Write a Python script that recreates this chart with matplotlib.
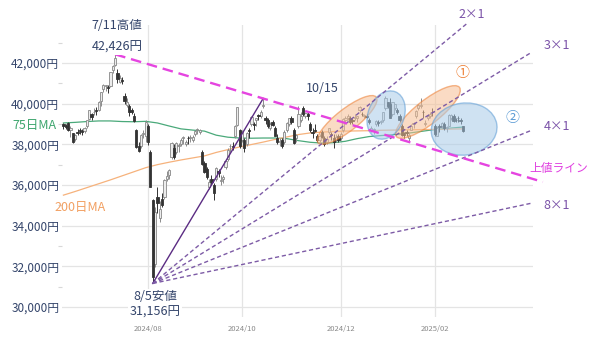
import numpy as np
import pandas as pd
import matplotlib
matplotlib.use('Agg')
import matplotlib.pyplot as plt
from matplotlib.patches import Ellipse
from matplotlib.transforms import ScaledTranslation

plt.rcParams['font.family'] = ['Noto Sans CJK JP', 'DejaVu Sans']

# === 日足データ (2024/06/11 - 2025/02/20) ===
jp_holidays = ['2024-07-15', '2024-08-12', '2024-09-16', '2024-09-23', '2024-10-14',
               '2024-11-04', '2024-12-31', '2025-01-01', '2025-01-02', '2025-01-03',
               '2025-01-13', '2025-02-11']
dates = pd.bdate_range('2024-06-11', '2025-02-20', freq='C', holidays=jp_holidays)

opens = [
    # 6月
    39000, 38920, 39050, 38700, 38560, 38240, 38620, 38700, 38640, 38670, 38880, 39260, 39500, 39570,
    # 7月
    39700, 39700, 40130, 40730, 40860, 40840, 40890, 41640, 41900, 41500, 41080, 41180, 40400, 39950,
    39900, 39700, 39400, 38700, 37900, 37900, 38500, 38400,
    # 8月
    38900, 37600, 35250, 32100, 35400, 34400, 35300, 35400, 36300, 36500, 37400, 37800, 37600, 37900,
    38000, 38300, 38000, 38300, 38300, 38200, 38500,
    # 9月
    38700, 38600, 37600, 37100, 36800, 35900, 36300, 36000, 36300, 36700, 36200, 36300, 36900, 37300,
    37900, 37900, 38400, 38950, 38700,
    # 10月
    38200, 38200, 38000, 38700, 39000, 39000, 39200, 39400, 39400, 39900, 39300, 39200, 38800, 39100,
    38800, 38300, 38100, 38200, 38100, 38700, 39000, 39300,
    # 11月
    38700, 38300, 38900, 39200, 39800, 39400, 39500, 39000, 38600, 38700, 38400, 38200, 38600, 38300,
    38100, 38600, 38500, 38300, 38200, 38400,
    # 12月
    38300, 38700, 39200, 39300, 39300, 39200, 39300, 39300, 39700, 39500, 39400, 39400, 39200, 38700,
    38700, 39000, 39100, 39100, 39200, 39800, 40100,
    # 1月
    40000, 39500, 39800, 39700, 39400, 38900, 38500, 38600, 38300, 38700, 39000, 39400, 39800, 39900,
    39600, 39000, 39300, 39400, 39600,
    # 2月
    38900, 38400, 38900, 38900, 39000, 38800, 38900, 39300, 39400, 39200, 39300, 39200, 38900,
]
highs = [
    39040, 39000, 39090, 38880, 38580, 38510, 38740, 38790, 38740, 38850, 39190, 39700, 39560, 39790,
    39840, 40120, 40590, 40950, 40910, 40900, 41580, 41880, 42426, 41700, 41400, 41300, 40500, 40290,
    39990, 39800, 39560, 38750, 38100, 38500, 38700, 39200,
    39000, 37700, 35300, 34900, 35900, 35200, 35600, 36300, 36700, 36800, 38100, 38000, 38100, 38050,
    38300, 38400, 38200, 38400, 38450, 38450, 38700,
    38800, 38750, 37700, 37200, 36900, 36300, 36500, 36100, 36900, 36800, 36500, 36500, 37200, 37800,
    38000, 38100, 38950, 39830, 38750,
    38700, 38300, 38600, 38800, 39400, 39100, 39300, 39500, 39700, 40257, 39400, 39300, 39100, 39200,
    38900, 38500, 38300, 38300, 38700, 39100, 39300, 39400,
    38800, 38500, 39880, 39600, 39880, 39600, 39600, 39100, 38800, 39000, 38500, 38500, 38700, 38400,
    38400, 38800, 38600, 38500, 38500, 38500,
    38600, 39300, 39400, 39500, 39400, 39300, 39500, 39400, 39900, 39600, 39500, 39500, 39300, 38900,
    38800, 39200, 39200, 39200, 39600, 40400, 40100,
    40300, 40100, 40000, 39800, 39500, 39000, 38600, 38700, 38600, 39000, 39100, 39700, 40000, 40300,
    39700, 39200, 39500, 39600, 39800,
    39000, 38900, 39000, 39100, 39100, 38900, 39500, 39500, 39500, 39300, 39400, 39300, 38900,
]
lows = [
    38740, 38740, 38650, 38360, 38070, 38150, 38450, 38500, 38460, 38570, 38820, 39200, 39220, 39460,
    39450, 39640, 39900, 40580, 40620, 40520, 40820, 41500, 41850, 41000, 41000, 40950, 40000, 39850,
    39400, 39480, 39100, 37830, 37600, 37800, 38300, 38100,
    37980, 35880, 31156, 31950, 34600, 34200, 34900, 35300, 36200, 36300, 37300, 37300, 37500, 37600,
    37900, 38000, 37900, 38000, 38100, 38100, 38400,
    38500, 38500, 37000, 36600, 36300, 35800, 36000, 35250, 36200, 36400, 36000, 36100, 36800, 37200,
    37600, 37700, 38300, 38900, 37800,
    38100, 37600, 37900, 38300, 38900, 38700, 38900, 39200, 39300, 39800, 39000, 38800, 38700, 38900,
    38400, 38000, 37900, 37800, 38000, 38600, 38900, 39000,
    38000, 38100, 38800, 39100, 39400, 39300, 39200, 38600, 38300, 38600, 38100, 38100, 38300, 37900,
    38000, 38500, 38200, 37800, 38100, 38100,
    38200, 38600, 39100, 39200, 39000, 39000, 39200, 39100, 39600, 39400, 39300, 39300, 39000, 38600,
    38500, 38900, 38900, 39000, 39100, 39700, 39800,
    39300, 39400, 39700, 39500, 39100, 38400, 38300, 38400, 38100, 38700, 38800, 39300, 39700, 39800,
    39300, 38900, 39200, 39300, 39400,
    38400, 38400, 38600, 38800, 38700, 38600, 38900, 39200, 39100, 39100, 39100, 39000, 38600,
]
closes = [
    38885, 38876, 38720, 38814, 38102, 38482, 38570, 38633, 38596, 38804, 39173, 39667, 39341, 39583,
    39631, 40074, 40580, 40913, 40912, 40780, 41580, 41831, 42224, 41190, 41275, 41097, 40126, 40063,
    39599, 39594, 39154, 37869, 37667, 38468, 38525, 39101,
    38126, 35909, 31458, 34675, 35089, 34831, 35025, 36232, 36442, 36726, 38062, 37388, 38062, 37951,
    38211, 38364, 38110, 38288, 38371, 38362, 38647,
    38700, 38686, 37047, 36657, 36391, 36159, 36159, 35619, 36833, 36581, 36203, 36380, 37155, 37723,
    37940, 37870, 38925, 39829, 37919,
    38651, 37808, 38552, 38635, 39332, 38937, 39277, 39380, 39605, 39910, 39180, 38911, 38981, 38954,
    38411, 38104, 38143, 37913, 38605, 39027, 39277, 39081,
    38053, 38474, 39480, 39381, 39500, 39533, 39376, 38721, 38536, 38642, 38220, 38414, 38352, 38026,
    38283, 38780, 38442, 38134, 38349, 38208,
    38513, 39248, 39276, 39395, 39091, 39160, 39367, 39372, 39849, 39470, 39457, 39364, 39081, 38813,
    38701, 39161, 39036, 39130, 39568, 40281, 39894,
    39307, 40083, 39981, 39605, 39190, 38474, 38444, 38572, 38451, 38902, 39027, 39646, 39958, 39931,
    39566, 39016, 39414, 39514, 39572,
    38520, 38798, 38831, 39066, 38787, 38801, 39463, 39461, 39149, 39174, 39270, 39164, 38678,
]

# 移動平均 (5営業日ごとに読み取り)
ma_idx = list(range(0, 171, 5))
ma75 = [39050, 39080, 39120, 39150, 39150, 39120, 39110, 39130, 39050, 38900, 38760, 38700,
        38650, 38450, 38350, 38310, 38300, 38310, 38310, 38280, 38180, 38100, 38060, 38080,
        38150, 38280, 38380, 38430, 38470, 38520, 38600, 38680, 38750, 38800, 38850]
ma200 = [35500, 35680, 35870, 36060, 36250, 36450, 36650, 36850, 37000, 37120, 37230, 37330,
         37430, 37600, 37740, 37870, 37990, 38110, 38240, 38360, 38480, 38560, 38600, 38630,
         38650, 38660, 38670, 38690, 38700, 38710, 38720, 38730, 38740, 38750, 38760]

# ギャン・ファン (8/5安値から)
fan_origin = (38, 31156)
fan_labels = ['1×1', '2×1', '3×1', '4×1', '8×1']
fan_end_x = [85, 172, 199.4, 199.4, 199.4]
fan_end_y = [40257, 43970, 42540, 38700, 35110]

# 上値ライン (7/11高値 - 10/15高値)
top_line_x = [22, 204]
top_line_y = [42426, 36150]

# 楕円 (中心 x, 中心 y, 幅px, 高さpx, 角度)
ell_orange = [(120.7, 39200, 74, 22, 38), (155.1, 39590, 80, 24, 38)]
ell_blue = [(137.3, 39440, 50, 36, 68), (170.5, 38750, 66, 52, 8)]

month_ticks = ['2024-08', '2024-10', '2024-12', '2025-02']

# === 描画 ===
fig = plt.figure(figsize=(6, 3.39), dpi=100)
ax = fig.add_axes([62 / 600, 22 / 339, 471 / 600, 292 / 339])
ax.set_xlim(-0.6, 199.8)
ax.set_ylim(29506, 43869)
for s in ax.spines.values():
    s.set_visible(False)

navy = '#34456b'
ax.set_yticks(range(30000, 42001, 2000))
ax.set_yticklabels([f'{v:,}円' for v in range(30000, 42001, 2000)], color=navy, fontsize=8.5)
ax.set_yticks(range(31000, 43001, 2000), minor=True)
ax.tick_params(axis='y', which='major', length=0, pad=2)
ax.tick_params(axis='y', which='minor', length=3, color='#d8d8d8', width=0.8)
tick_pos = [int(np.searchsorted(dates, pd.Timestamp(m + '-01'))) for m in month_ticks]
ax.set_xticks(tick_pos)
ax.set_xticklabels([m.replace('-', '/') for m in month_ticks], color='#8a8a8a', fontsize=5.5)
ax.tick_params(axis='x', length=0, pad=6)
ax.grid(True, which='major', color='#e4e4e4', lw=0.9)
ax.set_axisbelow(True)

x = np.arange(len(closes))
o = np.array(opens)
h = np.array(highs)
l = np.array(lows)
c = np.array(closes)
up = c >= o
lo = np.minimum(o, c)
bh = np.maximum(np.abs(c - o), 40)

# 移動平均線
ax.plot(ma_idx, ma75, color='#4aa97a', lw=0.9, zorder=2)
ax.plot(ma_idx, ma200, color='#f6b27c', lw=0.9, zorder=2)

# ローソク足
ax.vlines(x[up], l[up], h[up], color='#8c8c8c', lw=0.7, zorder=3)
ax.vlines(x[~up], l[~up], h[~up], color='#333333', lw=0.7, zorder=3)
ax.bar(x[up], bh[up], bottom=lo[up], width=0.95, color='#ececec', edgecolor='#888888', lw=0.6, zorder=4)
ax.bar(x[~up], bh[~up], bottom=lo[~up], width=0.95, color='#333333', edgecolor='#333333', lw=0.6, zorder=4)

# 楕円
def add_ellipse(cx, cy, w, hgt, ang, fc, ec):
    tr = fig.dpi_scale_trans + ScaledTranslation(cx, cy, ax.transData)
    ax.add_patch(Ellipse((0, 0), w / 100, hgt / 100, angle=ang, transform=tr,
                         facecolor=fc, edgecolor=ec, lw=1, alpha=0.55, zorder=5))

for cx, cy, w, hgt, ang in ell_orange:
    add_ellipse(cx, cy, w, hgt, ang, '#f6bf94', '#ed7d31')
for cx, cy, w, hgt, ang in ell_blue:
    add_ellipse(cx, cy, w, hgt, ang, '#a9cbe8', '#5b9bd5')

# ファンライン
for i in range(len(fan_labels)):
    if i == 0:
        ax.plot([fan_origin[0], fan_end_x[i]], [fan_origin[1], fan_end_y[i]],
                color='#5b2c83', lw=1, zorder=6, clip_on=False)
    else:
        ax.plot([fan_origin[0], fan_end_x[i]], [fan_origin[1], fan_end_y[i]],
                color='#7d5ba6', lw=1, ls=(0, (3, 2)), zorder=6, clip_on=False)

ax.plot(top_line_x, top_line_y, color='#e544e0', lw=1.7, ls=(0, (4.5, 2.5)), zorder=7, clip_on=False)

# テキスト
wb = dict(facecolor='white', edgecolor='none', pad=1)
ax.text(22.8, 43869, '7/11高値', color=navy, fontsize=9, ha='center', va='center', bbox=wb, zorder=8)
ax.text(22.8, 42787, '42,426円', color=navy, fontsize=9, ha='center', va='center', bbox=wb, zorder=8)
ax.text(39, 30490, '8/5安値', color=navy, fontsize=9, ha='center', va='center', bbox=wb, zorder=8)
ax.text(39, 29752, '31,156円', color=navy, fontsize=9, ha='center', va='center', bbox=wb, zorder=8)
ax.text(110, 40770, '10/15', color=navy, fontsize=9, ha='center', va='center', zorder=8)
ax.text(-21.9, 38950, '75日MA', color='#3fa66f', fontsize=9, ha='left', va='center')
ax.text(7.1, 34868, '200日MA', color='#f2a062', fontsize=9, ha='center', va='center')

fan_lab_x = [None, 173.9, 210, 210, 210]
fan_lab_y = [None, 44361, 42885, 38852, 34966]
for i in range(1, len(fan_labels)):
    ax.text(fan_lab_x[i], fan_lab_y[i], fan_labels[i], color='#7a52a8', fontsize=9,
            ha='center', va='center')

ax.text(210.9, 36835, '上値ライン', color='#e040e0', fontsize=8.5, ha='center', va='center')
ax.text(169.6, 41508, '①', color='#ed7d31', fontsize=10, ha='center', va='center')
ax.text(190.9, 39295, '②', color='#5b9bd5', fontsize=10, ha='center', va='center')

fig.savefig('out.png', dpi=100)
